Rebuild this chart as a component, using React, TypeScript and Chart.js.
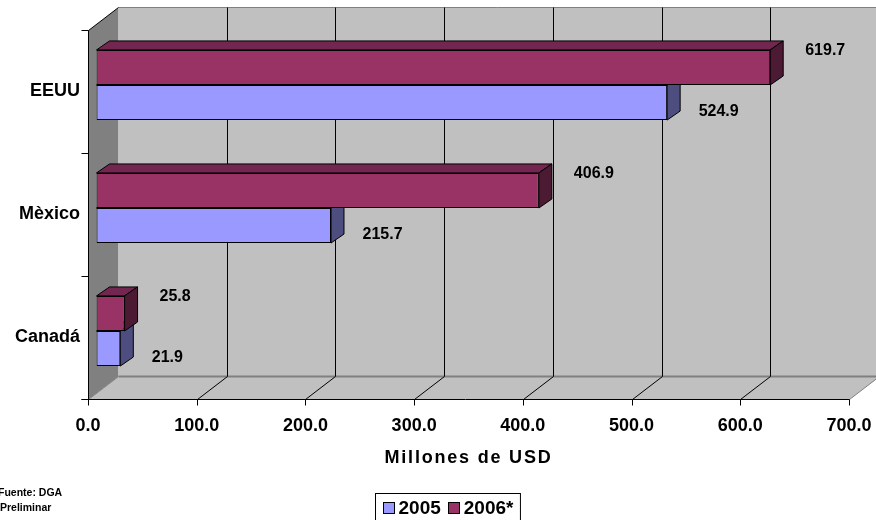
import React, { useEffect, useRef } from 'react';
import { Chart, registerables } from 'chart.js';

Chart.register(...registerables);

// ---------------- data ----------------
const categories = ['EEUU', 'Mèxico', 'Canadá'];
const series2005 = [524.9, 215.7, 21.9];
const series2006 = [619.7, 406.9, 25.8];
const seriesNames = ['2006*', '2005'];
const xMin = 0;
const xMax = 700;
const xStep = 100;
const axisTitle = 'Millones de USD';
const sourceLines = ['Fuente: DGA', 'Preliminar'];

// ---------------- style ----------------
const FONT = '"Liberation Sans", Arial, Helvetica, sans-serif';
const WALL_DX = 30;
const WALL_DY = -23;
const BAR_SHIFT_X = 8.5;
const BAR_SHIFT_Y = -6.5;
const BAR_DX = 13;
const BAR_DY = -9;

const palette = [
  { front: '#993366', top: '#732650', side: '#4d1a33', labelDx: 35, labelDy: -17 },
  { front: '#9999FF', top: '#7373BF', side: '#4d4d80', labelDx: 31.5, labelDy: 9 },
];

function poly(ctx: CanvasRenderingContext2D, pts: number[][]) {
  ctx.beginPath();
  ctx.moveTo(pts[0][0], pts[0][1]);
  for (let i = 1; i < pts.length; i++) ctx.lineTo(pts[i][0], pts[i][1]);
  ctx.closePath();
}

function line(ctx: CanvasRenderingContext2D, x1: number, y1: number, x2: number, y2: number) {
  ctx.beginPath();
  ctx.moveTo(x1, y1);
  ctx.lineTo(x2, y2);
  ctx.stroke();
}

const crisp = (v: number) => Math.round(v) + 0.5;

const threeDPlugin = {
  id: 'threeD',
  afterLayout(chart: any) {
    const sx: any = chart.scales.x;
    if (sx && !sx._lsPatched) {
      const orig = sx.drawTitle;
      sx.drawTitle = function (...a: any[]) {
        const c = this.ctx;
        c.save();
        c.letterSpacing = '1.8px';
        orig.apply(this, a);
        c.restore();
      };
      sx._lsPatched = true;
    }
  },
  beforeDatasetsDraw(chart: any) {
    const { ctx, chartArea: ca, scales } = chart;
    const xs = scales.x;
    const ys = scales.y;
    const x0 = crisp(xs.getPixelForValue(xMin));
    const x1 = crisp(xs.getPixelForValue(xMax));
    const top = crisp(ca.top);
    const bot = crisp(ca.bottom);
    ctx.save();
    // side wall
    ctx.fillStyle = '#808080';
    poly(ctx, [[x0, top], [x0 + WALL_DX, top + WALL_DY], [x0 + WALL_DX, bot + WALL_DY], [x0, bot]]);
    ctx.fill();
    // back wall
    ctx.fillStyle = '#C0C0C0';
    ctx.fillRect(x0 + WALL_DX, top + WALL_DY, x1 - x0 + 2, bot - top);
    // floor
    poly(ctx, [[x0, bot], [x1, bot], [x1 + WALL_DX, bot + WALL_DY], [x0 + WALL_DX, bot + WALL_DY]]);
    ctx.fill();

    // gray edges
    ctx.lineWidth = 1;
    ctx.strokeStyle = '#808080';
    line(ctx, x0 + WALL_DX, top + WALL_DY, x1 + WALL_DX, top + WALL_DY);
    ctx.lineWidth = 2;
    line(ctx, x0 + WALL_DX, bot + WALL_DY, x1 + WALL_DX, bot + WALL_DY);
    ctx.lineWidth = 1;
    line(ctx, x1, bot, x1 + WALL_DX, bot + WALL_DY);
    line(ctx, x0, bot, x0 + WALL_DX, bot + WALL_DY);

    // gridlines & floor diagonals
    ctx.strokeStyle = '#000';
    for (const t of xs.ticks) {
      const px = crisp(xs.getPixelForValue(t.value));
      if (t.value !== xMin) {
        line(ctx, px + WALL_DX, top + WALL_DY, px + WALL_DX, bot + WALL_DY);
        if (t.value !== xMax) line(ctx, px, bot, px + WALL_DX, bot + WALL_DY);
      }
      line(ctx, px, bot, px, bot + 6);
    }
    // side wall top edge
    line(ctx, x0, top, x0 + WALL_DX, top + WALL_DY);
    // axis lines
    line(ctx, x0, top, x0, bot);
    line(ctx, x0 - 7, bot, x1, bot);
    // category ticks
    for (let i = 0; i <= categories.length; i++) {
      const py = crisp(ys.getPixelForValue(i - 0.5));
      line(ctx, x0 - 7, py, x0, py);
    }
    ctx.restore();

    ctx.save();
    ctx.translate(BAR_SHIFT_X, BAR_SHIFT_Y);
  },
  afterDatasetDraw(chart: any, args: any) {
    const { ctx } = chart;
    const col = palette[args.index];
    ctx.save();
    ctx.strokeStyle = '#000';
    ctx.lineWidth = 1;
    ctx.lineJoin = 'round';
    for (const el of args.meta.data) {
      const p = el.getProps(['x', 'y', 'base', 'height'], true);
      const left = Math.min(p.x, p.base);
      const right = Math.max(p.x, p.base);
      const t = p.y - p.height / 2;
      const b = p.y + p.height / 2;
      ctx.fillStyle = col.top;
      poly(ctx, [[left, t], [right, t], [right + BAR_DX, t + BAR_DY], [left + BAR_DX, t + BAR_DY]]);
      ctx.fill();
      ctx.stroke();
      ctx.fillStyle = col.side;
      poly(ctx, [[right, t], [right + BAR_DX, t + BAR_DY], [right + BAR_DX, b + BAR_DY], [right, b]]);
      ctx.fill();
      ctx.stroke();
    }
    ctx.restore();
  },
  afterDatasetsDraw(chart: any) {
    const { ctx } = chart;
    ctx.restore();
    ctx.save();
    ctx.fillStyle = '#000';
    ctx.font = `bold 16px ${FONT}`;
    ctx.textAlign = 'left';
    ctx.textBaseline = 'middle';
    chart.data.datasets.forEach((ds: any, di: number) => {
      const meta = chart.getDatasetMeta(di);
      const col = palette[di];
      meta.data.forEach((el: any, i: number) => {
        const v = ds.data[i];
        ctx.fillText(
          Number(v).toFixed(1),
          el.x + BAR_SHIFT_X + col.labelDx,
          el.y + BAR_SHIFT_Y + col.labelDy
        );
      });
    });
    ctx.restore();
  },
  afterDraw(chart: any) {
    const { ctx } = chart;
    ctx.save();
    // legend (2005 first, 2006* second)
    const order = [1, 0];
    ctx.font = `bold 19px ${FONT}`;
    const box = 11;
    const gap = 5;
    const itemGap = 7;
    let total = 0;
    const widths = order.map((di) => ctx.measureText(chart.data.datasets[di].label).width);
    widths.forEach((w, k) => {
      total += box + gap + w + (k < widths.length - 1 ? itemGap : 0);
    });
    const padX = 7;
    const boxW = total + padX * 2;
    const cx = 447;
    const bx = Math.round(cx - boxW / 2) + 0.5;
    const by = 493.5;
    ctx.fillStyle = '#fff';
    ctx.fillRect(bx, by, boxW, 40);
    ctx.strokeStyle = '#000';
    ctx.lineWidth = 1;
    ctx.strokeRect(bx, by, boxW, 40);
    let lx = bx + padX;
    const ly = 508;
    order.forEach((di, k) => {
      ctx.fillStyle = palette[di].front;
      ctx.fillRect(Math.round(lx) + 0.5, ly - 5.5, box, box);
      ctx.strokeStyle = '#000';
      ctx.strokeRect(Math.round(lx) + 0.5, ly - 5.5, box, box);
      lx += box + gap;
      ctx.fillStyle = '#000';
      ctx.textAlign = 'left';
      ctx.textBaseline = 'middle';
      ctx.fillText(chart.data.datasets[di].label, lx, ly + 1);
      lx += widths[k] + itemGap;
    });
    // source notes
    ctx.font = `bold 10.5px ${FONT}`;
    ctx.fillStyle = '#000';
    ctx.textAlign = 'left';
    ctx.textBaseline = 'middle';
    ctx.fillText(sourceLines[0], -2, 493);
    ctx.fillText(sourceLines[1], 0, 508);
    ctx.restore();
  },
};

export default function App() {
  const ref = useRef<HTMLCanvasElement | null>(null);

  useEffect(() => {
    if (!ref.current) return;
    Chart.defaults.font.family = FONT;
    const chart = new Chart(ref.current, {
      type: 'bar',
      data: {
        labels: categories,
        datasets: [
          {
            label: seriesNames[0],
            data: series2006,
            backgroundColor: palette[0].front,
            borderColor: '#000',
            borderWidth: 1,
            borderSkipped: false,
            categoryPercentage: 0.57,
            barPercentage: 1,
          },
          {
            label: seriesNames[1],
            data: series2005,
            backgroundColor: palette[1].front,
            borderColor: '#000',
            borderWidth: 1,
            borderSkipped: false,
            categoryPercentage: 0.57,
            barPercentage: 1,
          },
        ],
      },
      options: {
        indexAxis: 'y',
        animation: false,
        responsive: true,
        maintainAspectRatio: false,
        layout: { padding: { top: 30, right: 27, left: 0, bottom: 0 } },
        plugins: {
          legend: { display: false },
          tooltip: { enabled: false },
        },
        scales: {
          x: {
            type: 'linear',
            min: xMin,
            max: xMax,
            grid: { display: false, drawTicks: false },
            border: { display: false },
            ticks: {
              stepSize: xStep,
              color: '#000',
              padding: 16,
              font: { family: FONT, size: 18, weight: 'bold' },
              callback: (v: any) => Number(v).toFixed(1),
            },
            title: {
              display: true,
              text: axisTitle,
              color: '#000',
              font: { family: FONT, size: 18, weight: 'bold' },
              padding: { top: 0, bottom: 51 },
            },
            afterFit: (s: any) => {
              s.height = 121;
              s.paddingLeft = 0;
              s.paddingRight = 0;
            },
          },
          y: {
            type: 'category',
            grid: { display: false, drawTicks: false },
            border: { display: false },
            ticks: {
              color: '#000',
              padding: 8,
              font: { family: FONT, size: 18, weight: 'bold' },
            },
            afterFit: (s: any) => {
              s.width = 88;
              s.paddingTop = 0;
              s.paddingBottom = 0;
            },
          },
        },
      } as any,
      plugins: [threeDPlugin as any],
    });
    return () => chart.destroy();
  }, []);

  return (
    <div style={{ position: 'absolute', left: 0, top: 0, width: 876, height: 520, background: '#fff' }}>
      <canvas ref={ref} />
    </div>
  );
}
